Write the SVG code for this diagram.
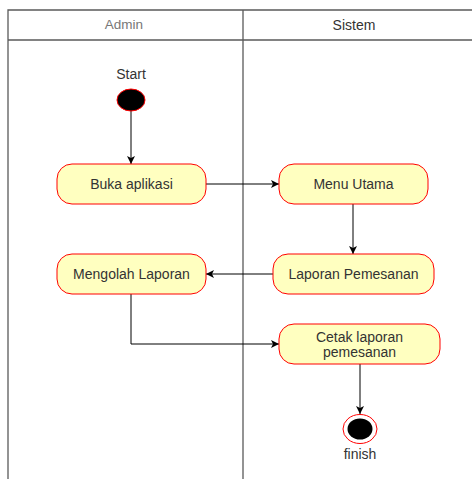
<svg xmlns="http://www.w3.org/2000/svg" width="472" height="479" viewBox="0 0 472 479">
<style>
.lane{fill:none;stroke:#5a5a5a;stroke-width:1.3}
.act{fill:#ffffc0;stroke:#ff0000;stroke-width:1}
.t{font-family:"Liberation Sans",Arial,sans-serif;font-size:14px;fill:#333;text-anchor:middle}
.c{fill:none;stroke:#000;stroke-width:1}
</style>
<defs>
<marker id="ah" markerWidth="10" markerHeight="10" refX="9" refY="5" orient="auto" markerUnits="userSpaceOnUse">
<path d="M1,1 L9,5 L1,9 L3,5 Z" fill="#000"/>
</marker>
</defs>
<g id="lanes">
<path class="lane" d="M8,479 V10 H472 M8,40 H472 M243,10 V479"/>
<text class="t" x="124" y="29" style="fill:#777;font-size:13.5px">Admin</text>
<text class="t" x="354" y="30">Sistem</text>
</g>
<g id="connectors">
<path class="c" d="M131,111 V164" marker-end="url(#ah)"/>
<path class="c" d="M206,184 H279" marker-end="url(#ah)"/>
<path class="c" d="M353,204 V254" marker-end="url(#ah)"/>
<path class="c" d="M273,274 H206" marker-end="url(#ah)"/>
<path class="c" d="M131,294 V344 H279" marker-end="url(#ah)"/>
<path class="c" d="M360,364 V414" marker-end="url(#ah)"/>
</g>
<g id="start">
<text class="t" x="131" y="79">Start</text>
<ellipse cx="131" cy="100" rx="14" ry="11" fill="#000" stroke="#ff0000"/>
</g>
<g id="buka">
<rect class="act" x="57" y="164" width="149" height="40" rx="15"/>
<text class="t" x="131.5" y="189">Buka aplikasi</text>
</g>
<g id="menu">
<rect class="act" x="279" y="164" width="149" height="40" rx="15"/>
<text class="t" x="353.5" y="189">Menu Utama</text>
</g>
<g id="laporan">
<rect class="act" x="273" y="254" width="161" height="40" rx="15"/>
<text class="t" x="353.5" y="279">Laporan Pemesanan</text>
</g>
<g id="mengolah">
<rect class="act" x="57" y="254" width="149" height="40" rx="15"/>
<text class="t" x="131.5" y="279">Mengolah Laporan</text>
</g>
<g id="cetak">
<rect class="act" x="279" y="324" width="161" height="40" rx="15"/>
<text class="t" x="359.5" y="342">Cetak laporan</text>
<text class="t" x="359.5" y="357">pemesanan</text>
</g>
<g id="finish">
<ellipse cx="360" cy="429" rx="17" ry="14.5" fill="#fff" stroke="#ff0000"/>
<ellipse cx="360" cy="429" rx="12.5" ry="10.5" fill="#000"/>
<text class="t" x="360" y="459">finish</text>
</g>
</svg>
